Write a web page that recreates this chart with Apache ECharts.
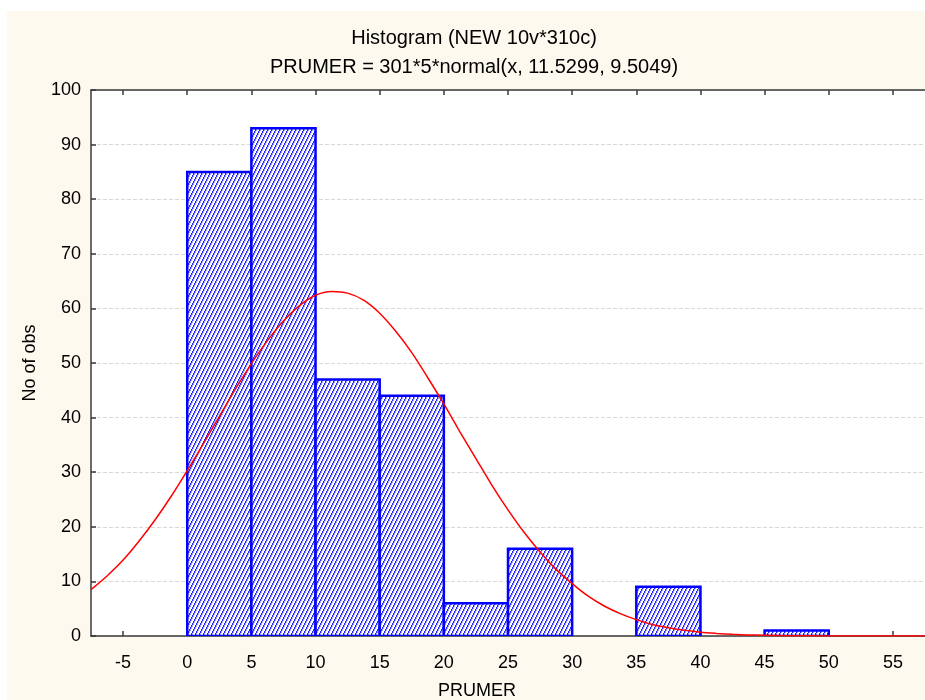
<!DOCTYPE html>
<html>
<head>
<meta charset="utf-8">
<script src="https://cdn.jsdelivr.net/npm/echarts@6/dist/echarts.min.js"></script>
<style>
  html, body { margin: 0; padding: 0; background: #ffffff; width: 925px; height: 700px; overflow: hidden; }
  #chart { position: absolute; left: 7px; top: 11px; width: 918px; height: 689px; background: #FDF9EF; }
</style>
</head>
<body>
<div id="chart"></div>
<script>
// ---- data ----
var titleText = 'Histogram (NEW 10v*310c)';
var subtitleText = 'PRUMER = 301*5*normal(x, 11.5299, 9.5049)';
var xName = 'PRUMER';
var yName = 'No of obs';
var binStarts = [0, 5, 10, 15, 20, 25, 30, 35, 40, 45];
var binEnds   = [5, 10, 15, 20, 25, 30, 35, 40, 45, 50];
var binCounts = [85, 93, 47, 44, 6, 16, 0, 9, 0, 1];
var xTicks = [-5, 0, 5, 10, 15, 20, 25, 30, 35, 40, 45, 50, 55];
var curveX = [-7.5, -6.25, -5, -3.75, -2.5, -1.25, 0, 1.25, 2.5, 3.75, 5, 6.25, 7.5, 8.75, 10, 11.25, 12.5, 13.75, 15, 16.25, 17.5, 18.75, 20, 21.25, 22.5, 23.75, 25, 26.25, 27.5, 28.75, 30, 31.25, 32.5, 33.75, 35, 36.25, 37.5, 38.75, 40, 41.25, 42.5, 43.75, 45, 46.25, 47.5, 50, 52.5, 55, 57.5];
var curveY = [8.5, 11.0, 13.9, 17.4, 21.3, 25.6, 30.3, 35.2, 40.2, 45.2, 49.9, 54.1, 57.7, 60.5, 62.4, 63.1, 62.8, 61.5, 59.1, 55.8, 51.9, 47.3, 42.5, 37.4, 32.5, 27.6, 23.1, 19.0, 15.4, 12.2, 9.6, 7.3, 5.5, 4.1, 3.0, 2.1, 1.5, 1.05, 0.7, 0.48, 0.31, 0.2, 0.13, 0.08, 0.05, 0.02, 0.01, 0.0, 0.0];

// ---- hatch pattern ----
var tile = document.createElement('canvas');
tile.width = 4; tile.height = 8;
var tc = tile.getContext('2d');
tc.fillStyle = '#ffffff';
tc.fillRect(0, 0, 4, 8);
for (var r = 0; r < 8; r++) {
  var x0 = Math.floor((7 - r) / 2);
  tc.fillStyle = '#2222ff';
  tc.fillRect(x0, r, 1, 1);
  tc.fillStyle = '#a0a0ff';
  tc.fillRect((x0 + 1) % 4, r, 1, 1);
}
var hatch = { image: tile, repeat: 'repeat' };

var barData = binStarts.map(function (s, i) { return [s, binEnds[i], binCounts[i]]; });
var curveData = curveX.map(function (x, i) { return [x, curveY[i]]; });

var font = '"Liberation Sans", Arial, sans-serif';
var axisColor = '#3a3a3a';

var chart = echarts.init(document.getElementById('chart'), null, { renderer: 'canvas' });
chart.setOption({
  backgroundColor: '#FDF9EF',
  animation: false,
  title: [
    { text: titleText, left: 462, top: 12, textAlign: 'center',
      textStyle: { fontFamily: font, fontSize: 20, fontWeight: 'normal', color: '#000' } },
    { text: subtitleText, left: 462, top: 41, textAlign: 'center',
      textStyle: { fontFamily: font, fontSize: 20, fontWeight: 'normal', color: '#000' } },
    { text: xName, left: 465, top: 666, textAlign: 'center',
      textStyle: { fontFamily: font, fontSize: 18, fontWeight: 'normal', color: '#000' } }
  ],
  grid: { left: 84, top: 79, width: 838.5, height: 546, backgroundColor: '#ffffff', show: true, borderWidth: 0 },
  xAxis: [
    {
      type: 'value', position: 'bottom', min: -7.5, max: 57.5,
      axisLine: { show: true, onZero: false, lineStyle: { color: axisColor, width: 1.5 } },
      axisTick: { show: true, inside: true, length: 5, customValues: xTicks, lineStyle: { color: axisColor, width: 1.5 } },
      axisLabel: { show: true, customValues: xTicks, margin: 18, fontFamily: font, fontSize: 18, color: '#000' },
      splitLine: { show: false }
    },
    {
      type: 'value', position: 'top', min: -7.5, max: 57.5,
      axisLine: { show: true, onZero: false, lineStyle: { color: axisColor, width: 1.5 } },
      axisTick: { show: true, inside: true, length: 5, customValues: xTicks, lineStyle: { color: axisColor, width: 1.5 } },
      axisLabel: { show: false },
      splitLine: { show: false }
    }
  ],
  yAxis: {
    type: 'value', min: 0, max: 100, interval: 10,
    name: yName, nameLocation: 'middle', nameRotate: 90, nameGap: 52,
    nameTextStyle: { fontFamily: font, fontSize: 18, color: '#000' },
    axisLine: { show: true, onZero: false, lineStyle: { color: axisColor, width: 1.5 } },
    axisTick: { show: true, inside: true, length: 5, lineStyle: { color: axisColor, width: 1.5 } },
    axisLabel: { margin: 10, fontFamily: font, fontSize: 18, color: '#000' },
    splitLine: { show: true, lineStyle: { color: '#d8d8d8', type: 'dashed', width: 1 } }
  },
  series: [
    {
      type: 'custom',
      xAxisIndex: 0,
      data: barData,
      clip: true,
      renderItem: function (params, api) {
        var h = api.value(2);
        if (!h) return null;
        var p0 = api.coord([api.value(0), h]);
        var p1 = api.coord([api.value(1), 0]);
        return {
          type: 'rect',
          shape: { x: p0[0], y: p0[1], width: p1[0] - p0[0], height: p1[1] - p0[1] },
          style: { fill: hatch, stroke: '#0000FF', lineWidth: 2.5 }
        };
      },
      z: 2
    },
    {
      type: 'line',
      xAxisIndex: 0,
      data: curveData,
      smooth: 0.3,
      symbol: 'none',
      clip: true,
      lineStyle: { color: '#FF0000', width: 1.5 },
      z: 3
    }
  ]
});
</script>
</body>
</html>
